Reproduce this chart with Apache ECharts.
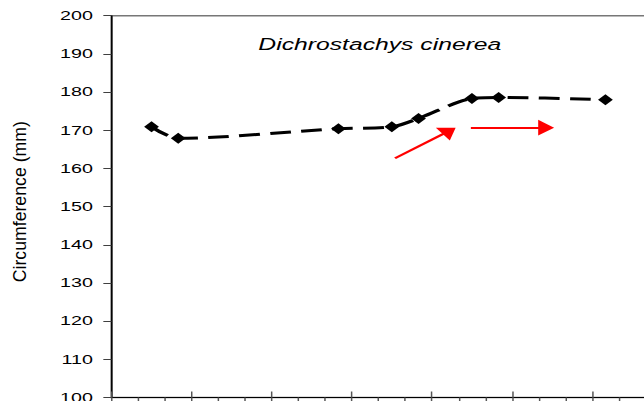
<!DOCTYPE html>
<html>
<head>
<meta charset="utf-8">
<script src="https://cdn.jsdelivr.net/npm/echarts@6/dist/echarts.min.js"></script>
<style>
  html, body { margin: 0; padding: 0; background: #fff; overflow: hidden; }
  /* the figure is laid out narrow and widened horizontally, like the printed plate */
  #chart { width: 435px; height: 401px; transform: scaleX(1.48046); transform-origin: 0 0; }
</style>
</head>
<body>
<div id="chart"></div>
<script>
// Survey months along the horizontal axis (0-based month bands)
const monthCount = 20;
const surveyMonth = [1, 2, 8, 10, 11, 13, 14, 18];
// Mean stem circumference (mm) recorded in each survey month
const circumference = [170.9, 167.9, 170.4, 170.9, 173.1, 178.3, 178.6, 178.0];
// Vertical scale
const yMin = 100, yMax = 200, yStep = 10;
// Texts
const speciesName = 'Dichrostachys cinerea';
const yAxisTitle = 'Circumference (mm)';
// Trend arrows drawn over the plot, in axis units: [start, end]
const trendArrows = [
  [[10.62, 162.65], [12.65, 169.83]],
  [[13.46, 170.67], [16.28, 170.67]]
];

const points = surveyMonth.map((m, i) => [m + 0.5, circumference[i]]);

const chart = echarts.init(document.getElementById('chart'), null, { renderer: 'svg' });

chart.setOption({
  animation: false,
  backgroundColor: '#fff',
  title: {
    text: speciesName,
    left: 174.5,
    top: 36,
    padding: 0,
    textStyle: {
      fontFamily: 'Liberation Sans',
      fontStyle: 'italic',
      fontWeight: 'normal',
      fontSize: 16.7,
      color: '#000'
    }
  },
  grid: {
    left: 75.3,
    right: -1,
    top: 15.7,
    bottom: 3.5,
    containLabel: false,
    outerBoundsMode: 'none',
    show: true,
    borderColor: '#777',
    borderWidth: 1.5,
    backgroundColor: 'transparent'
  },
  xAxis: [
    {
      type: 'value',
      min: 0,
      max: monthCount,
      interval: 1,
      position: 'bottom',
      axisLine: { show: true, onZero: false, lineStyle: { color: '#000', width: 1 } },
      axisTick: { show: true, inside: false, length: 6, lineStyle: { color: '#555', width: 1 } },
      axisLabel: { show: false },
      splitLine: { show: false }
    },
    {
      type: 'value',
      min: 0,
      max: monthCount,
      interval: 3,
      position: 'bottom',
      axisLine: { show: false, onZero: false },
      axisTick: { show: true, inside: true, length: 6, lineStyle: { color: '#555', width: 1 } },
      axisLabel: { show: false },
      splitLine: { show: false }
    }
  ],
  yAxis: {
    type: 'value',
    min: yMin,
    max: yMax,
    interval: yStep,
    axisLine: { show: true, onZero: false, lineStyle: { color: '#000', width: 1 } },
    axisTick: { show: true, inside: false, length: 5.5, lineStyle: { color: '#404040', width: 1 } },
    axisLabel: {
      color: '#000',
      fontFamily: 'Liberation Sans',
      fontSize: 13.3,
      margin: 12.5
    },
    splitLine: { show: false }
  },
  graphic: [
    {
      type: 'text',
      x: 13.5,
      y: 201.7,
      rotation: Math.PI / 2,
      scaleX: 1.476,
      style: {
        text: yAxisTitle,
        fontFamily: 'Liberation Sans',
        fontSize: 12,
        fill: '#000',
        align: 'center',
        verticalAlign: 'middle'
      }
    }
  ],
  series: [
    {
      type: 'line',
      xAxisIndex: 0,
      data: points,
      smooth: 0.3,
      symbol: 'diamond',
      symbolSize: [10, 11],
      itemStyle: { color: '#000' },
      lineStyle: { color: '#000', width: 3, type: [14, 7] },
      z: 3,
      markLine: {
        silent: true,
        animation: false,
        symbol: ['none', 'triangle'],
        symbolSize: [15.7, 10.8],
        label: { show: false },
        lineStyle: { color: '#ff0000', width: 2, type: 'solid' },
        emphasis: { disabled: true },
        data: trendArrows.map(a => [{ coord: a[0] }, { coord: a[1] }])
      }
    }
  ]
});
</script>
</body>
</html>
